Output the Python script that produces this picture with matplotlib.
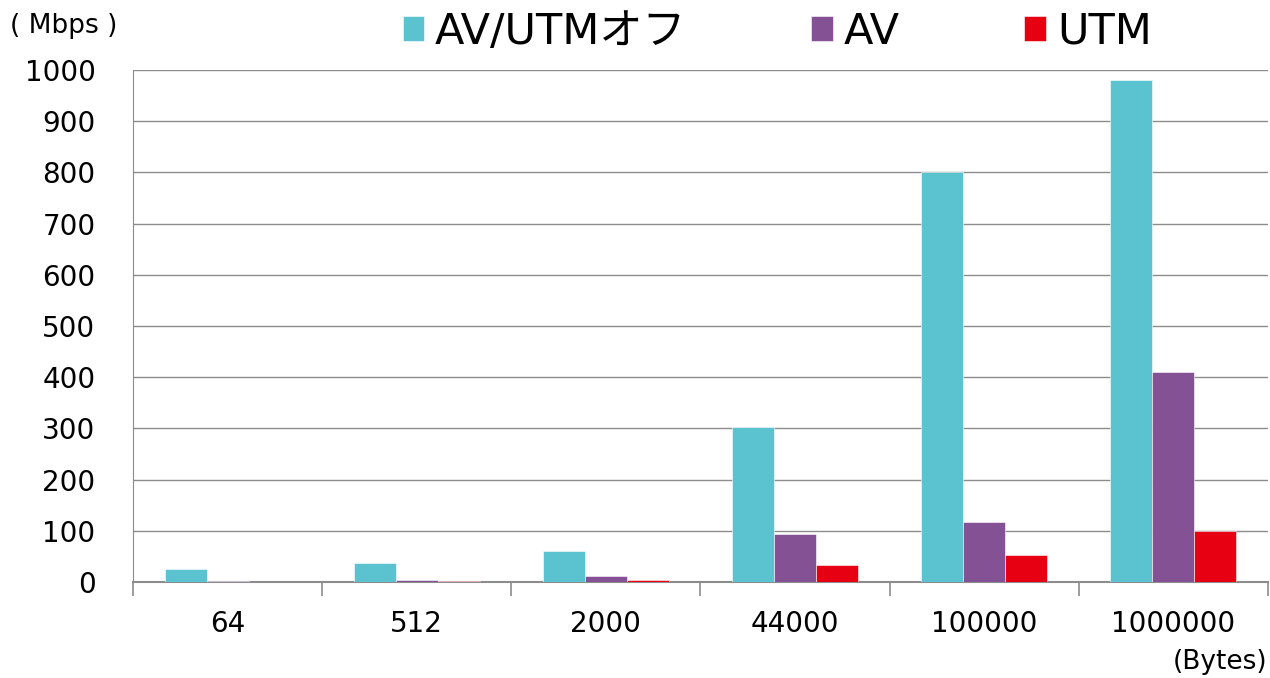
import matplotlib
matplotlib.use("Agg")
import matplotlib.pyplot as plt
import numpy as np

categories = ["64", "512", "2000", "44000", "100000", "1000000"]
off_vals = [26, 38, 60, 302, 800, 980]
av_vals = [2.5, 4.5, 12, 93, 117, 410]
utm_vals = [0.5, 2.5, 4, 33, 52, 100]
series_names = ["AV/UTMオフ", "AV", "UTM"]
colors = ["#5BC2CF", "#845195", "#E60012"]

plt.rcParams['font.family'] = ['DejaVu Sans', 'Noto Sans CJK JP']

fig = plt.figure(figsize=(12.7, 6.78), dpi=100)
ax = fig.add_axes([0.1047, 0.1416, 0.8937, 0.7552])

x = np.arange(len(categories))
w = 0.222
for i, (vals, c, n) in enumerate(zip([off_vals, av_vals, utm_vals], colors, series_names)):
    ax.bar(x + (i - 1) * w, vals, width=w, color=c, label=n,
           edgecolor="white", linewidth=0.4, zorder=3)

ax.set_xlim(-0.5, len(categories) - 0.5)
ax.set_ylim(0, 1000)
ax.set_yticks(np.arange(0, 1001, 100))
ax.yaxis.grid(True, color="#8C8C8C", linewidth=1.0, zorder=0)
ax.set_axisbelow(True)

ax.set_xticks(x)
ax.set_xticklabels(categories)
ax.set_xticks(np.arange(-0.5, len(categories)), minor=True)
ax.tick_params(axis="x", which="major", length=0, labelsize=20, pad=20)
ax.tick_params(axis="x", which="minor", length=10, color="#8C8C8C", width=1.2)
ax.tick_params(axis="y", length=0, labelsize=20, pad=27)

for s in ["top", "right"]:
    ax.spines[s].set_visible(False)
ax.spines["left"].set_color("#8C8C8C")
ax.spines["bottom"].set_color("#8C8C8C")
ax.spines["bottom"].set_linewidth(1.5)

fig.text(0.008, 0.962, "( Mbps )", fontsize=19, ha="left", va="center")
fig.text(0.998, 0.024, "(Bytes)", fontsize=19, ha="right", va="center")

fig.legend(loc="center", bbox_to_anchor=(0.612, 0.953), ncol=3, frameon=False,
           fontsize=31, handlelength=0.5, handleheight=0.5, handletextpad=0.25,
           columnspacing=2.9, borderpad=0, borderaxespad=0)

fig.savefig("out.png", dpi=100)
